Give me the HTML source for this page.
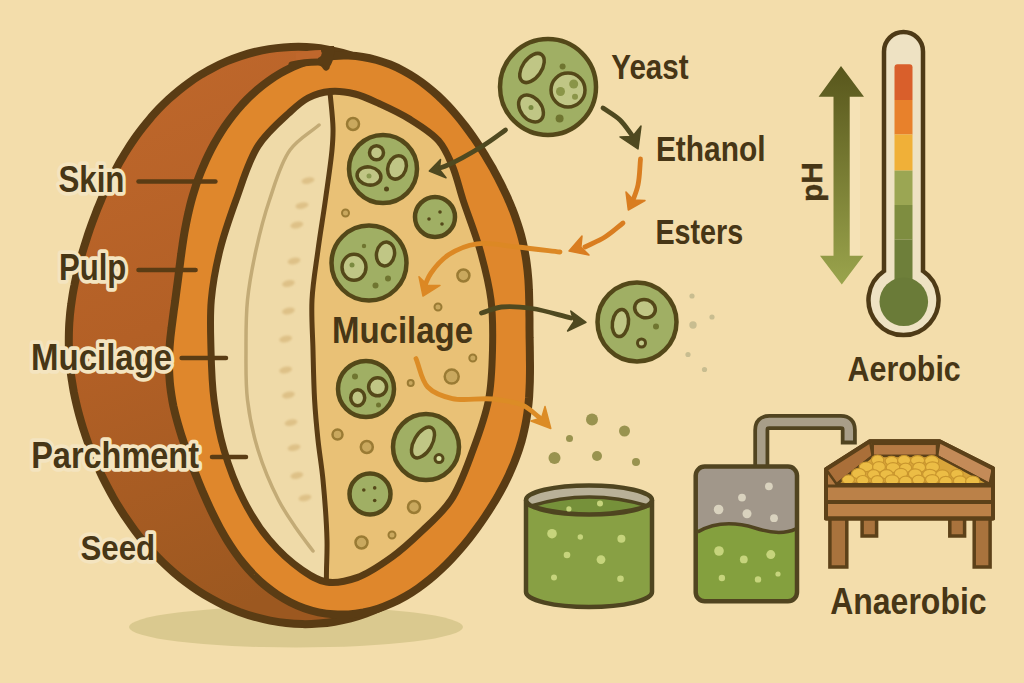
<!DOCTYPE html>
<html><head><meta charset="utf-8"><style>
html,body{margin:0;padding:0;width:1024px;height:683px;overflow:hidden;background:#f3ddab;}
svg{display:block;}
</style></head><body>
<svg width="1024" height="683" viewBox="0 0 1024 683">
<rect width="1024" height="683" fill="#f3ddab"/>
<ellipse cx="296" cy="627" rx="167" ry="20.5" fill="#dac98f"/>
<defs><linearGradient id="skg" x1="0" y1="0" x2="0.3" y2="1"><stop offset="0" stop-color="#c0682c"/><stop offset="0.5" stop-color="#b36026"/><stop offset="1" stop-color="#9c5820"/></linearGradient></defs>
<path d="M499.7,323.1 C499.9,327.4 500.1,331.7 500.3,336.0 C500.4,340.3 500.6,344.7 500.7,349.0 C500.8,353.4 500.8,357.8 500.9,362.1 C500.9,366.6 500.9,371.0 500.8,375.5 C500.7,380.0 500.6,384.5 500.4,389.0 C500.3,393.6 500.0,398.2 499.7,402.8 C499.4,407.4 499.0,412.1 498.5,416.8 C498.0,421.5 497.5,426.2 496.8,431.0 C496.1,435.7 495.4,440.6 494.5,445.3 C493.6,450.2 492.6,455.0 491.5,459.9 C490.3,464.7 489.1,469.6 487.6,474.5 C486.2,479.3 484.7,484.2 483.0,489.0 C481.2,493.9 479.4,498.7 477.3,503.5 C475.3,508.3 473.1,513.0 470.7,517.7 C468.3,522.4 465.8,527.0 463.1,531.6 C460.3,536.1 457.4,540.6 454.4,544.9 C451.3,549.3 448.0,553.6 444.6,557.7 C441.1,561.8 437.5,565.8 433.8,569.7 C430.0,573.5 426.0,577.2 421.9,580.7 C417.8,584.3 413.6,587.6 409.2,590.8 C404.8,593.9 400.2,596.9 395.5,599.6 C390.9,602.4 386.0,604.9 381.1,607.2 C376.2,609.6 371.2,611.7 366.1,613.5 C361.0,615.4 355.8,617.0 350.6,618.3 C345.3,619.7 340.0,620.8 334.7,621.7 C329.3,622.6 323.9,623.2 318.5,623.6 C313.1,624.0 307.7,624.2 302.3,624.1 C296.9,624.0 291.5,623.6 286.2,623.0 C280.8,622.5 275.5,621.6 270.2,620.6 C265.0,619.6 259.8,618.3 254.7,616.9 C249.5,615.4 244.5,613.7 239.5,611.9 C234.6,610.0 229.7,608.0 224.9,605.8 C220.2,603.6 215.6,601.2 211.0,598.6 C206.5,596.1 202.1,593.4 197.8,590.6 C193.5,587.8 189.4,584.9 185.3,581.8 C181.3,578.8 177.4,575.6 173.7,572.4 C169.9,569.1 166.3,565.8 162.8,562.4 C159.3,559.0 156.0,555.6 152.7,552.1 C149.5,548.6 146.4,545.0 143.4,541.4 C140.5,537.9 137.6,534.2 134.9,530.6 C132.2,527.0 129.6,523.3 127.1,519.6 C124.6,516.0 122.2,512.3 119.9,508.6 C117.6,505.0 115.4,501.3 113.3,497.6 C111.3,494.0 109.3,490.4 107.4,486.7 C105.5,483.1 103.7,479.5 101.9,475.9 C100.2,472.3 98.6,468.7 97.0,465.1 C95.4,461.6 93.9,458.0 92.5,454.5 C91.1,450.9 89.7,447.4 88.4,443.9 C87.2,440.4 85.9,437.0 84.8,433.5 C83.6,430.0 82.5,426.6 81.5,423.1 C80.5,419.7 79.5,416.3 78.6,412.8 C77.7,409.5 76.9,406.1 76.1,402.7 C75.3,399.3 74.6,395.9 73.9,392.5 C73.3,389.2 72.7,385.8 72.2,382.4 C71.6,379.1 71.2,375.8 70.7,372.4 C70.3,369.1 70.0,365.8 69.7,362.5 C69.4,359.1 69.2,355.8 69.1,352.5 C68.9,349.3 68.8,346.0 68.8,342.7 C68.8,339.4 68.8,336.1 68.9,332.9 C69.0,329.6 69.1,326.4 69.3,323.1 C69.6,319.9 69.8,316.7 70.1,313.5 C70.5,310.3 70.8,307.1 71.3,303.9 C71.7,300.7 72.2,297.5 72.7,294.3 C73.2,291.2 73.8,288.0 74.5,284.8 C75.1,281.7 75.8,278.5 76.5,275.4 C77.2,272.3 77.9,269.1 78.7,266.0 C79.5,262.8 80.4,259.7 81.3,256.6 C82.1,253.4 83.0,250.3 84.0,247.2 C85.0,244.0 86.0,240.9 87.0,237.7 C88.0,234.5 89.1,231.4 90.2,228.2 C91.3,225.0 92.5,221.8 93.7,218.6 C94.9,215.4 96.2,212.2 97.4,208.9 C98.8,205.7 100.1,202.4 101.5,199.1 C102.9,195.8 104.4,192.5 105.9,189.2 C107.4,185.9 109.0,182.5 110.7,179.2 C112.4,175.8 114.1,172.4 115.9,169.1 C117.7,165.7 119.6,162.2 121.6,158.9 C123.6,155.4 125.7,152.0 127.9,148.6 C130.1,145.2 132.3,141.8 134.7,138.4 C137.1,135.0 139.6,131.6 142.2,128.3 C144.8,124.9 147.5,121.6 150.3,118.3 C153.1,115.0 156.1,111.8 159.1,108.6 C162.2,105.4 165.4,102.3 168.7,99.2 C172.0,96.2 175.5,93.2 179.0,90.3 C182.6,87.4 186.2,84.6 190.0,81.9 C193.8,79.2 197.7,76.7 201.7,74.2 C205.8,71.8 209.9,69.4 214.1,67.3 C218.4,65.1 222.7,63.1 227.1,61.2 C231.6,59.3 236.1,57.6 240.7,56.1 C245.3,54.6 249.9,53.2 254.7,52.0 C259.4,50.9 264.2,49.9 269.0,49.1 C273.9,48.3 278.7,47.7 283.6,47.4 C288.5,47.0 293.5,46.8 298.4,46.8 C303.4,46.9 308.3,47.1 313.2,47.6 C318.2,48.0 323.1,48.7 328.0,49.6 C332.8,50.5 337.7,51.6 342.5,52.8 C347.3,54.1 352.0,55.6 356.7,57.3 C361.4,59.0 366.0,60.9 370.5,63.0 C375.0,65.1 379.4,67.4 383.7,69.8 C388.0,72.3 392.3,74.9 396.4,77.7 C400.5,80.5 404.5,83.4 408.3,86.5 C412.2,89.6 415.9,92.9 419.5,96.3 C423.1,99.6 426.6,103.1 429.9,106.8 C433.2,110.4 436.4,114.1 439.4,117.9 C442.5,121.8 445.3,125.7 448.1,129.7 C450.8,133.7 453.5,137.8 455.9,141.9 C458.4,146.0 460.7,150.3 462.9,154.5 C465.1,158.7 467.2,163.0 469.1,167.4 C471.0,171.7 472.8,176.0 474.5,180.4 C476.1,184.7 477.7,189.1 479.1,193.5 C480.6,197.9 481.9,202.3 483.1,206.7 C484.4,211.1 485.5,215.5 486.5,219.9 C487.6,224.3 488.5,228.7 489.4,233.0 C490.3,237.4 491.1,241.7 491.8,246.1 C492.5,250.4 493.2,254.7 493.8,259.1 C494.4,263.4 495.0,267.7 495.5,272.0 C496.0,276.2 496.4,280.5 496.9,284.8 C497.3,289.1 497.7,293.3 498.0,297.6 C498.3,301.8 498.7,306.1 498.9,310.3 C499.2,314.6 499.5,318.9 499.7,323.1 Z" fill="url(#skg)" stroke="#5a3c14" stroke-width="8" stroke-linejoin="round"/>
<path d="M529.5,328.2 C529.6,331.3 529.6,334.5 529.6,337.7 C529.7,340.8 529.7,344.0 529.8,347.2 C529.8,350.4 529.9,353.7 529.9,356.9 C529.9,360.2 530.0,363.5 530.0,366.7 C530.0,370.1 530.0,373.4 529.9,376.8 C529.9,380.2 529.8,383.6 529.6,387.0 C529.5,390.5 529.3,394.0 529.1,397.5 C528.8,401.0 528.5,404.6 528.0,408.1 C527.6,411.7 527.1,415.3 526.5,418.9 C525.9,422.5 525.2,426.1 524.4,429.7 C523.6,433.4 522.7,437.0 521.7,440.7 C520.6,444.3 519.5,447.9 518.3,451.6 C517.1,455.2 515.7,458.8 514.3,462.4 C512.8,466.1 511.3,469.7 509.6,473.3 C508.0,476.9 506.2,480.5 504.4,484.1 C502.5,487.7 500.6,491.3 498.5,494.9 C496.5,498.5 494.4,502.0 492.1,505.6 C489.9,509.2 487.6,512.8 485.2,516.4 C482.8,520.0 480.3,523.6 477.7,527.2 C475.1,530.8 472.4,534.4 469.6,537.9 C466.7,541.5 463.8,545.1 460.8,548.6 C457.7,552.2 454.6,555.7 451.3,559.2 C448.0,562.7 444.6,566.1 441.1,569.4 C437.5,572.8 433.8,576.1 430.0,579.2 C426.2,582.3 422.2,585.4 418.1,588.2 C414.0,591.1 409.8,593.8 405.5,596.3 C401.1,598.8 396.6,601.2 392.0,603.2 C387.4,605.3 382.7,607.2 377.9,608.7 C373.2,610.2 368.3,611.5 363.4,612.5 C358.4,613.4 353.4,614.1 348.5,614.4 C343.5,614.7 338.4,614.7 333.5,614.3 C328.5,614.0 323.5,613.3 318.6,612.3 C313.7,611.2 308.8,609.9 304.1,608.2 C299.4,606.5 294.7,604.5 290.2,602.2 C285.7,599.9 281.3,597.3 277.1,594.5 C272.9,591.7 268.8,588.6 264.9,585.4 C261.0,582.1 257.3,578.6 253.7,575.0 C250.2,571.3 246.8,567.5 243.6,563.6 C240.4,559.7 237.4,555.7 234.6,551.7 C231.8,547.6 229.1,543.5 226.5,539.3 C224.0,535.2 221.7,531.0 219.4,526.9 C217.2,522.8 215.1,518.6 213.1,514.5 C211.1,510.5 209.2,506.4 207.4,502.4 C205.6,498.4 203.9,494.5 202.2,490.6 C200.6,486.7 199.0,482.9 197.5,479.1 C196.0,475.4 194.5,471.7 193.1,468.0 C191.7,464.4 190.4,460.8 189.0,457.3 C187.7,453.7 186.5,450.2 185.2,446.7 C184.0,443.3 182.9,439.9 181.7,436.4 C180.6,433.0 179.6,429.6 178.6,426.2 C177.6,422.9 176.7,419.5 175.8,416.1 C174.9,412.8 174.2,409.4 173.4,406.1 C172.7,402.8 172.1,399.4 171.6,396.1 C171.0,392.7 170.6,389.4 170.2,386.1 C169.8,382.8 169.6,379.5 169.4,376.2 C169.2,372.9 169.1,369.6 169.0,366.3 C169.0,363.1 169.0,359.8 169.1,356.6 C169.2,353.4 169.4,350.2 169.6,347.0 C169.8,343.8 170.1,340.6 170.4,337.5 C170.8,334.4 171.1,331.3 171.5,328.2 C171.9,325.1 172.3,322.0 172.7,319.0 C173.1,315.9 173.5,312.9 173.9,309.8 C174.4,306.8 174.8,303.8 175.2,300.7 C175.6,297.7 176.0,294.7 176.4,291.6 C176.8,288.5 177.2,285.5 177.6,282.4 C178.0,279.3 178.4,276.2 178.8,273.1 C179.2,269.9 179.6,266.7 180.0,263.5 C180.4,260.3 180.8,257.0 181.3,253.7 C181.7,250.4 182.2,247.1 182.7,243.7 C183.2,240.3 183.7,236.9 184.3,233.4 C184.9,229.9 185.6,226.4 186.3,222.8 C187.0,219.2 187.7,215.6 188.6,212.0 C189.4,208.3 190.3,204.6 191.3,200.9 C192.3,197.2 193.4,193.4 194.6,189.7 C195.8,185.8 197.1,182.0 198.5,178.2 C199.9,174.4 201.4,170.5 203.1,166.7 C204.7,162.8 206.4,158.9 208.3,155.1 C210.2,151.2 212.2,147.3 214.3,143.5 C216.5,139.7 218.7,135.9 221.1,132.1 C223.5,128.3 226.1,124.5 228.8,120.9 C231.5,117.2 234.3,113.6 237.3,110.0 C240.3,106.5 243.4,103.0 246.7,99.7 C250.0,96.3 253.5,93.1 257.0,90.0 C260.6,86.9 264.3,83.9 268.2,81.2 C272.1,78.4 276.1,75.8 280.2,73.4 C284.3,71.0 288.6,68.8 292.9,66.8 C297.2,64.9 301.7,63.1 306.2,61.6 C310.8,60.1 315.4,58.9 320.1,58.0 C324.7,57.0 329.5,56.3 334.2,55.9 C338.9,55.5 343.7,55.4 348.5,55.6 C353.2,55.8 358.0,56.2 362.7,57.0 C367.4,57.7 372.0,58.7 376.6,60.0 C381.2,61.3 385.8,62.9 390.2,64.6 C394.6,66.4 399.0,68.5 403.2,70.7 C407.4,72.9 411.5,75.4 415.5,78.0 C419.5,80.6 423.3,83.4 427.0,86.3 C430.7,89.2 434.3,92.3 437.8,95.5 C441.2,98.7 444.5,102.0 447.7,105.3 C450.8,108.6 453.9,112.1 456.8,115.5 C459.7,119.0 462.5,122.5 465.2,126.0 C467.8,129.5 470.4,133.0 472.9,136.6 C475.3,140.1 477.7,143.6 480.0,147.2 C482.2,150.7 484.4,154.2 486.5,157.7 C488.6,161.2 490.6,164.6 492.6,168.1 C494.5,171.6 496.4,175.0 498.2,178.5 C499.9,181.9 501.7,185.3 503.3,188.7 C505.0,192.1 506.6,195.5 508.1,198.9 C509.5,202.3 511.0,205.7 512.3,209.1 C513.7,212.5 514.9,215.9 516.1,219.3 C517.3,222.7 518.4,226.1 519.4,229.5 C520.4,232.8 521.4,236.2 522.2,239.6 C523.0,243.0 523.8,246.4 524.4,249.8 C525.1,253.2 525.7,256.6 526.2,259.9 C526.7,263.3 527.1,266.7 527.5,270.0 C527.8,273.3 528.1,276.6 528.4,280.0 C528.6,283.3 528.8,286.5 528.9,289.8 C529.1,293.1 529.1,296.3 529.2,299.5 C529.3,302.7 529.3,306.0 529.4,309.1 C529.4,312.3 529.4,315.5 529.5,318.7 C529.5,321.8 529.5,325.0 529.5,328.2 Z" fill="#df872c" stroke="#5a3c14" stroke-width="8" stroke-linejoin="round"/>
<path d="M296,53 C305,51 313,50 321,50 L322,59 C313,59 304,60 296,61 Z" fill="#bf672c"/>
<path d="M292,65 C300,63 310,62 318,62 C323,62 325,65 326,67" fill="none" stroke="#5a3c14" stroke-width="7" stroke-linecap="round"/>
<path d="M318,58 C324,56 322,50 321,46 L334,46 C335,55 333,63 328,69 C325,66 322,64 318,64 Z" fill="#5a3c14"/>
<defs><clipPath id="inner"><path d="M330.0,91.5 C338.0,90.7 346.8,92.0 355.0,94.0 C363.5,96.1 371.4,100.1 380.0,104.0 C389.4,108.3 399.5,112.9 409.0,118.8 C419.1,125.1 431.3,132.4 438.6,140.8 C445.0,148.1 448.1,156.0 452.0,165.0 C456.5,175.4 458.9,187.3 463.0,200.0 C468.0,215.2 475.3,233.2 480.0,250.0 C484.6,266.5 488.9,283.2 491.0,300.0 C493.1,316.6 492.9,333.3 492.5,350.0 C492.1,366.7 491.7,383.5 488.5,400.0 C485.3,416.8 479.2,433.5 473.0,450.0 C466.7,466.8 460.3,486.0 451.0,500.0 C442.8,512.4 432.0,521.4 422.0,531.0 C412.3,540.3 402.8,549.3 392.0,557.0 C381.1,564.8 368.7,573.5 357.0,577.6 C346.8,581.2 335.8,583.5 326.4,582.0 C317.6,580.6 310.3,575.7 302.0,570.0 C291.3,562.7 278.7,551.1 269.0,539.6 C259.1,527.8 250.8,514.4 243.5,500.0 C235.7,484.7 228.9,466.9 224.0,450.0 C219.2,433.5 216.2,416.7 214.0,400.0 C211.9,383.4 211.4,366.7 211.0,350.0 C210.6,333.3 209.8,316.6 211.3,300.0 C212.8,283.3 215.9,266.5 220.0,250.0 C224.1,233.2 229.9,216.9 236.0,200.0 C242.5,182.2 248.3,161.1 258.0,146.0 C266.5,132.7 279.6,121.6 289.0,113.0 C295.8,106.7 301.1,101.6 308.0,98.0 C314.8,94.5 322.4,92.2 330.0,91.5 Z"/></clipPath></defs>
<path d="M330.0,91.5 C338.0,90.7 346.8,92.0 355.0,94.0 C363.5,96.1 371.4,100.1 380.0,104.0 C389.4,108.3 399.5,112.9 409.0,118.8 C419.1,125.1 431.3,132.4 438.6,140.8 C445.0,148.1 448.1,156.0 452.0,165.0 C456.5,175.4 458.9,187.3 463.0,200.0 C468.0,215.2 475.3,233.2 480.0,250.0 C484.6,266.5 488.9,283.2 491.0,300.0 C493.1,316.6 492.9,333.3 492.5,350.0 C492.1,366.7 491.7,383.5 488.5,400.0 C485.3,416.8 479.2,433.5 473.0,450.0 C466.7,466.8 460.3,486.0 451.0,500.0 C442.8,512.4 432.0,521.4 422.0,531.0 C412.3,540.3 402.8,549.3 392.0,557.0 C381.1,564.8 368.7,573.5 357.0,577.6 C346.8,581.2 335.8,583.5 326.4,582.0 C317.6,580.6 310.3,575.7 302.0,570.0 C291.3,562.7 278.7,551.1 269.0,539.6 C259.1,527.8 250.8,514.4 243.5,500.0 C235.7,484.7 228.9,466.9 224.0,450.0 C219.2,433.5 216.2,416.7 214.0,400.0 C211.9,383.4 211.4,366.7 211.0,350.0 C210.6,333.3 209.8,316.6 211.3,300.0 C212.8,283.3 215.9,266.5 220.0,250.0 C224.1,233.2 229.9,216.9 236.0,200.0 C242.5,182.2 248.3,161.1 258.0,146.0 C266.5,132.7 279.6,121.6 289.0,113.0 C295.8,106.7 301.1,101.6 308.0,98.0 C314.8,94.5 322.4,92.2 330.0,91.5 Z" fill="#e9c176"/>
<path d="M330.0,92.0 C331.0,104.0 332.8,117.5 333.0,128.0 C333.2,136.2 332.8,141.2 332.0,150.0 C330.8,163.3 327.7,183.3 325.4,200.0 C323.1,216.7 320.2,233.3 318.0,250.0 C315.8,266.7 312.8,283.3 312.0,300.0 C311.2,316.6 312.6,333.3 313.0,350.0 C313.4,366.7 313.7,384.3 314.6,400.0 C315.4,414.1 316.6,426.7 318.0,440.0 C319.4,453.3 321.6,465.3 323.0,480.0 C324.7,498.0 326.6,523.4 327.0,540.0 C327.3,551.7 326.6,562.3 326.5,570.0 C326.4,574.9 326.4,578.0 326.4,582.0 L150,600 L150,60 Z" fill="#efdaa8" clip-path="url(#inner)"/>
<path d="M319.0,125.0 C309.3,133.3 297.9,139.1 290.0,150.0 C280.6,163.0 275.2,183.2 269.5,200.0 C263.9,216.5 259.7,233.2 256.0,250.0 C252.4,266.6 249.2,283.3 247.5,300.0 C245.8,316.6 246.0,333.3 246.0,350.0 C246.0,366.7 245.5,383.4 247.5,400.0 C249.5,416.8 252.9,433.6 258.0,450.0 C263.2,466.9 271.3,486.0 278.5,500.0 C284.1,511.0 290.0,519.2 296.0,528.0 C301.6,536.2 307.3,543.3 313.0,551.0" fill="none" stroke="#c3ab76" stroke-width="3.5" stroke-linecap="round"/>
<defs><filter id="soft" x="-50%" y="-50%" width="200%" height="200%"><feGaussianBlur stdDeviation="0.8"/></filter></defs>
<g filter="url(#soft)"><ellipse cx="308" cy="180.6" rx="6.5" ry="3.2" transform="rotate(-12 308 180.6)" fill="#dec187"/><ellipse cx="302" cy="205.6" rx="6.5" ry="3.2" transform="rotate(-12 302 205.6)" fill="#dec187"/><ellipse cx="296.8" cy="225" rx="6.5" ry="3.2" transform="rotate(-12 296.8 225)" fill="#dec187"/><ellipse cx="294" cy="261" rx="6.5" ry="3.2" transform="rotate(-12 294 261)" fill="#dec187"/><ellipse cx="288.4" cy="283.5" rx="6.5" ry="3.2" transform="rotate(-12 288.4 283.5)" fill="#dec187"/><ellipse cx="288.4" cy="311" rx="6.5" ry="3.2" transform="rotate(-12 288.4 311)" fill="#dec187"/><ellipse cx="285.6" cy="339" rx="6.5" ry="3.2" transform="rotate(-12 285.6 339)" fill="#dec187"/><ellipse cx="285.6" cy="370" rx="6.5" ry="3.2" transform="rotate(-12 285.6 370)" fill="#dec187"/><ellipse cx="288.4" cy="395" rx="6.5" ry="3.2" transform="rotate(-12 288.4 395)" fill="#dec187"/><ellipse cx="291" cy="422.7" rx="6.5" ry="3.2" transform="rotate(-12 291 422.7)" fill="#dec187"/><ellipse cx="294" cy="447.7" rx="6.5" ry="3.2" transform="rotate(-12 294 447.7)" fill="#dec187"/><ellipse cx="296.8" cy="475.5" rx="6.5" ry="3.2" transform="rotate(-12 296.8 475.5)" fill="#dec187"/><ellipse cx="305" cy="497.8" rx="6.5" ry="3.2" transform="rotate(-12 305 497.8)" fill="#dec187"/></g>
<path d="M330.0,92.0 C331.0,104.0 332.8,117.5 333.0,128.0 C333.2,136.2 332.8,141.2 332.0,150.0 C330.8,163.3 327.7,183.3 325.4,200.0 C323.1,216.7 320.2,233.3 318.0,250.0 C315.8,266.7 312.8,283.3 312.0,300.0 C311.2,316.6 312.6,333.3 313.0,350.0 C313.4,366.7 313.7,384.3 314.6,400.0 C315.4,414.1 316.6,426.7 318.0,440.0 C319.4,453.3 321.6,465.3 323.0,480.0 C324.7,498.0 326.6,523.4 327.0,540.0 C327.3,551.7 326.6,562.3 326.5,570.0 C326.4,574.9 326.4,578.0 326.4,582.0" fill="none" stroke="#5a3c14" stroke-width="5" stroke-linecap="round"/>
<path d="M330.0,91.5 C338.0,90.7 346.8,92.0 355.0,94.0 C363.5,96.1 371.4,100.1 380.0,104.0 C389.4,108.3 399.5,112.9 409.0,118.8 C419.1,125.1 431.3,132.4 438.6,140.8 C445.0,148.1 448.1,156.0 452.0,165.0 C456.5,175.4 458.9,187.3 463.0,200.0 C468.0,215.2 475.3,233.2 480.0,250.0 C484.6,266.5 488.9,283.2 491.0,300.0 C493.1,316.6 492.9,333.3 492.5,350.0 C492.1,366.7 491.7,383.5 488.5,400.0 C485.3,416.8 479.2,433.5 473.0,450.0 C466.7,466.8 460.3,486.0 451.0,500.0 C442.8,512.4 432.0,521.4 422.0,531.0 C412.3,540.3 402.8,549.3 392.0,557.0 C381.1,564.8 368.7,573.5 357.0,577.6 C346.8,581.2 335.8,583.5 326.4,582.0 C317.6,580.6 310.3,575.7 302.0,570.0 C291.3,562.7 278.7,551.1 269.0,539.6 C259.1,527.8 250.8,514.4 243.5,500.0 C235.7,484.7 228.9,466.9 224.0,450.0 C219.2,433.5 216.2,416.7 214.0,400.0 C211.9,383.4 211.4,366.7 211.0,350.0 C210.6,333.3 209.8,316.6 211.3,300.0 C212.8,283.3 215.9,266.5 220.0,250.0 C224.1,233.2 229.9,216.9 236.0,200.0 C242.5,182.2 248.3,161.1 258.0,146.0 C266.5,132.7 279.6,121.6 289.0,113.0 C295.8,106.7 301.1,101.6 308.0,98.0 C314.8,94.5 322.4,92.2 330.0,91.5 Z" fill="none" stroke="#5a3c14" stroke-width="7"/>
<circle cx="353" cy="124" r="6" fill="#c9a85e" stroke="#9a7b34" stroke-width="2.5"/>
<circle cx="345.5" cy="213" r="3.5" fill="#c9a85e" stroke="#9a7b34" stroke-width="2"/>
<circle cx="463.4" cy="275.5" r="6" fill="#c9a85e" stroke="#9a7b34" stroke-width="2.5"/>
<circle cx="438" cy="307" r="3.5" fill="#c9a85e" stroke="#9a7b34" stroke-width="2"/>
<circle cx="472.8" cy="358" r="3.5" fill="#c9a85e" stroke="#9a7b34" stroke-width="2"/>
<circle cx="451.7" cy="376.6" r="7" fill="#c9a85e" stroke="#9a7b34" stroke-width="2.5"/>
<circle cx="410.7" cy="383" r="3" fill="#c9a85e" stroke="#9a7b34" stroke-width="2"/>
<circle cx="337.5" cy="434.6" r="5" fill="#c9a85e" stroke="#9a7b34" stroke-width="2.5"/>
<circle cx="366.8" cy="447" r="6" fill="#c9a85e" stroke="#9a7b34" stroke-width="2.5"/>
<circle cx="414" cy="507" r="6" fill="#c9a85e" stroke="#9a7b34" stroke-width="2.5"/>
<circle cx="392" cy="535" r="3.5" fill="#c9a85e" stroke="#9a7b34" stroke-width="2"/>
<circle cx="361.5" cy="542.5" r="6" fill="#c9a85e" stroke="#9a7b34" stroke-width="2.5"/>
<circle cx="383" cy="169" r="34" fill="#a0af64" stroke="#544819" stroke-width="4.5"/><ellipse cx="376.5" cy="152.7" rx="7" ry="7" transform="rotate(0 376.5 152.7)" fill="#c0c685" stroke="#544819" stroke-width="3.5"/><ellipse cx="397" cy="167.4" rx="9" ry="12" transform="rotate(20 397 167.4)" fill="#c0c685" stroke="#544819" stroke-width="3.5"/><ellipse cx="369" cy="176" rx="12" ry="9" transform="rotate(10 369 176)" fill="#c0c685" stroke="#544819" stroke-width="3.5"/><circle cx="369" cy="176" r="2.5" fill="#8a9a50"/><circle cx="386.5" cy="189" r="2.5" fill="#544819"/>
<circle cx="435" cy="217" r="20" fill="#a0af64" stroke="#544819" stroke-width="4.5"/><circle cx="440" cy="212" r="1.8" fill="#544819"/><circle cx="429" cy="219" r="1.8" fill="#544819"/><circle cx="442" cy="224" r="1.8" fill="#544819"/>
<circle cx="369" cy="263" r="37.5" fill="#a0af64" stroke="#544819" stroke-width="4.5"/><ellipse cx="354" cy="267.3" rx="12" ry="13" transform="rotate(0 354 267.3)" fill="#c0c685" stroke="#544819" stroke-width="3.5"/><circle cx="352" cy="265" r="2.5" fill="#7a8a40"/><ellipse cx="385.5" cy="254" rx="9" ry="12" transform="rotate(10 385.5 254)" fill="#c0c685" stroke="#544819" stroke-width="3.5"/><circle cx="364" cy="246" r="2.2" fill="#6f7530"/><circle cx="388" cy="278.5" r="3" fill="#6f7530"/><circle cx="375.5" cy="285.5" r="3" fill="#6f7530"/>
<circle cx="366" cy="389" r="28" fill="#a0af64" stroke="#544819" stroke-width="4.5"/><ellipse cx="377.6" cy="386.8" rx="9" ry="9" transform="rotate(0 377.6 386.8)" fill="#c0c685" stroke="#544819" stroke-width="3.5"/><ellipse cx="357.7" cy="397.7" rx="7" ry="8" transform="rotate(0 357.7 397.7)" fill="#c0c685" stroke="#544819" stroke-width="3.5"/><circle cx="355" cy="376.6" r="3" fill="#6f7530"/><circle cx="378.5" cy="405" r="2.5" fill="#6f7530"/>
<circle cx="426" cy="447" r="33" fill="#a0af64" stroke="#544819" stroke-width="4.5"/><ellipse cx="423" cy="442.5" rx="9" ry="17" transform="rotate(30 423 442.5)" fill="#c0c685" stroke="#544819" stroke-width="3.5"/><ellipse cx="439" cy="458.6" rx="4" ry="4" transform="rotate(0 439 458.6)" fill="#d8e0a0" stroke="#544819" stroke-width="3"/>
<circle cx="370" cy="494" r="20.5" fill="#a0af64" stroke="#544819" stroke-width="4.5"/><circle cx="363.8" cy="490" r="1.8" fill="#544819"/><circle cx="374.7" cy="487.9" r="1.8" fill="#544819"/><circle cx="374.7" cy="500.5" r="1.8" fill="#544819"/>
<circle cx="548" cy="87" r="48" fill="#a0af64" stroke="#544819" stroke-width="4.5"/><ellipse cx="532" cy="68" rx="9.5" ry="16.5" transform="rotate(35 532 68)" fill="#c0c685" stroke="#544819" stroke-width="3.5"/><ellipse cx="531" cy="108.5" rx="10.5" ry="15" transform="rotate(-38 531 108.5)" fill="#c0c685" stroke="#544819" stroke-width="3.5"/><circle cx="531" cy="107.6" r="2.5" fill="#7a8a40"/><ellipse cx="568" cy="90" rx="17" ry="17" transform="rotate(0 568 90)" fill="#c0c685" stroke="#544819" stroke-width="3.5"/><circle cx="560.5" cy="91.5" r="4.5" fill="#8a9548"/><circle cx="573.7" cy="84" r="4.5" fill="#8a9548"/><circle cx="575" cy="96.8" r="3" fill="#8a9548"/><circle cx="562.6" cy="66.6" r="3" fill="#6f7530"/><circle cx="559.6" cy="118.4" r="4" fill="#6f7530"/>
<circle cx="637" cy="322" r="39.5" fill="#a0af64" stroke="#544819" stroke-width="4.5"/><ellipse cx="620.4" cy="323" rx="8" ry="13.7" transform="rotate(8 620.4 323)" fill="#c0c685" stroke="#544819" stroke-width="3.5"/><ellipse cx="645" cy="308.6" rx="10.5" ry="9" transform="rotate(20 645 308.6)" fill="#c0c685" stroke="#544819" stroke-width="3.5"/><ellipse cx="641.5" cy="343" rx="4" ry="4" transform="rotate(0 641.5 343)" fill="#c0c888" stroke="#544819" stroke-width="3"/><circle cx="656" cy="326.5" r="3" fill="#6f7530"/>
<path d="M505.5,130.0 C498.3,135.1 492.2,140.0 483.8,145.2 C472.9,152.0 453.5,162.7 445.0,166.3 C441.1,167.9 439.0,168.1 436.0,169.0" fill="none" stroke="#4f4920" stroke-width="4.8" stroke-linecap="round"/><path d="M429.3,171 L440.5,159.6 L439.3,169.3 L446,177.8 Z" fill="#4f4920" stroke="#4f4920" stroke-width="1.5" stroke-linejoin="round"/>
<path d="M603.0,108.0 C608.7,112.0 614.9,115.2 620.0,120.0 C625.3,125.1 629.3,132.0 634.0,138.0" fill="none" stroke="#4f4920" stroke-width="4.8" stroke-linecap="round"/><path d="M638,149 L620,137 L632.6,136.4 L641,126 Z" fill="#4f4920" stroke="#4f4920" stroke-width="1.5" stroke-linejoin="round"/>
<path d="M640.5,159.0 C639.7,167.7 639.7,177.2 638.0,185.0 C636.6,191.6 634.0,197.0 632.0,203.0" fill="none" stroke="#d97d20" stroke-width="4.8" stroke-linecap="round"/><path d="M628.3,210 L626,192 L633.5,200.1 L645,200.5 Z" fill="#d97d20" stroke="#d97d20" stroke-width="1.5" stroke-linejoin="round"/>
<path d="M623.0,223.0 C617.0,227.7 611.4,233.0 605.0,237.0 C598.7,241.0 591.7,243.7 585.0,247.0" fill="none" stroke="#d97d20" stroke-width="4.8" stroke-linecap="round"/><path d="M569,251 L582,236 L580.9,247.0 L589,255 Z" fill="#d97d20" stroke="#d97d20" stroke-width="1.5" stroke-linejoin="round"/>
<path d="M560.0,252.0 C545.7,250.3 531.1,248.4 517.0,247.0 C503.4,245.7 489.0,242.1 477.0,243.8 C466.6,245.3 456.9,249.4 449.0,254.6 C441.7,259.4 435.1,267.2 431.0,273.0 C428.0,277.2 427.0,281.0 425.0,285.0" fill="none" stroke="#dc8824" stroke-width="4.8" stroke-linecap="round"/><path d="M423,296 L419,276.7 L427.7,285.2 L440,285.4 Z" fill="#dc8824" stroke="#dc8824" stroke-width="1.5" stroke-linejoin="round"/>
<path d="M481.5,313.0 C488.2,311.0 494.0,307.9 501.5,307.0 C510.5,305.9 521.3,306.9 532.0,308.5 C544.3,310.3 558.0,314.8 571.0,318.0" fill="none" stroke="#4f4920" stroke-width="4.8" stroke-linecap="round"/><path d="M586,322.3 L570.8,311 L573.9,321.4 L567.6,331 Z" fill="#4f4920" stroke="#4f4920" stroke-width="1.5" stroke-linejoin="round"/>
<path d="M416.0,358.6 C419.9,368.1 421.3,380.3 427.7,387.0 C433.7,393.3 442.8,396.4 452.3,398.6 C463.8,401.2 479.9,397.7 492.3,399.0 C503.3,400.2 514.6,401.6 523.0,405.4 C529.9,408.5 534.3,413.8 540.0,418.0" fill="none" stroke="#dc8c26" stroke-width="4.8" stroke-linecap="round"/><path d="M550.8,428.5 L531,421 L541.6,417.9 L545,406.5 Z" fill="#dc8c26" stroke="#dc8c26" stroke-width="1.5" stroke-linejoin="round"/>
<circle cx="592" cy="419.5" r="6" fill="#99934f"/>
<circle cx="569.5" cy="438.5" r="3.5" fill="#99934f"/>
<circle cx="624.5" cy="431" r="5.5" fill="#99934f"/>
<circle cx="554.5" cy="458" r="6" fill="#99934f"/>
<circle cx="597" cy="456" r="5" fill="#99934f"/>
<circle cx="636" cy="462" r="4" fill="#99934f"/>
<circle cx="692" cy="296" r="2.6" fill="#c8bd90"/>
<circle cx="693" cy="325" r="3.7" fill="#c8bd90"/>
<circle cx="712" cy="317" r="2.6" fill="#c8bd90"/>
<circle cx="688" cy="354.5" r="2.6" fill="#c8bd90"/>
<circle cx="704.5" cy="369.5" r="2.6" fill="#c8bd90"/>
<line x1="138.5" y1="181.4" x2="215.4" y2="181.4" stroke="#5a3c14" stroke-width="4.5" stroke-linecap="round"/>
<line x1="138.5" y1="270" x2="195.6" y2="270" stroke="#5a3c14" stroke-width="4.5" stroke-linecap="round"/>
<line x1="181.6" y1="358" x2="226" y2="358" stroke="#5a3c14" stroke-width="4.5" stroke-linecap="round"/>
<line x1="212" y1="457" x2="246" y2="457" stroke="#5a3c14" stroke-width="4.5" stroke-linecap="round"/>
<path d="M884,271 V51.5 A19.5,19.5 0 0 1 923,51.5 V271 A35,35 0 1 1 884,271 Z" fill="#eee2c3" stroke="#4e3a16" stroke-width="4.5"/>
<path d="M894.5,67.3 Q894.5,64.3 897.5,64.3 H909.5 Q912.5,64.3 912.5,67.3 V100 H894.5 Z" fill="#d95f2b"/>
<rect x="894.5" y="100" width="18" height="34.5" fill="#e8812b"/>
<rect x="894.5" y="134.5" width="18" height="36.099999999999994" fill="#f0b038"/>
<rect x="894.5" y="170.6" width="18" height="34.400000000000006" fill="#9ba653"/>
<rect x="894.5" y="205" width="18" height="34.5" fill="#7e8d40"/>
<rect x="894.5" y="239.5" width="18" height="50.5" fill="#6e7f3a"/>
<circle cx="903.8" cy="301.7" r="24.3" fill="#6a7b38"/>
<defs><linearGradient id="phg" x1="0" y1="0" x2="0" y2="1"><stop offset="0" stop-color="#58561c"/><stop offset="1" stop-color="#9aa44c"/></linearGradient></defs>
<rect x="850" y="97" width="10" height="159" fill="#f8ecca" opacity="0.35"/>
<path d="M841,66 L818.6,96.7 H833.5 V255.7 H820 L841.8,284.4 L863.4,255.7 H849.7 V96.7 H864 Z" fill="url(#phg)"/>
<path d="M526,500 V592 A63,15 0 0 0 652,592 V500" fill="#88a044" stroke="#4f4520" stroke-width="4.5"/>
<ellipse cx="589" cy="500" rx="63" ry="14.5" fill="#b9b198" stroke="#4f4520" stroke-width="4.5"/>
<path d="M531,506 Q589,488 648,506 Q589,522 531,506 Z" fill="#76913a" stroke="#4f4520" stroke-width="3.5"/>
<circle cx="568.9" cy="508.9" r="2.6" fill="#c6d47c"/>
<circle cx="600" cy="503.4" r="3" fill="#c6d47c"/>
<circle cx="552" cy="533.7" r="4.8" fill="#c6d47c"/>
<circle cx="580.3" cy="537" r="2.7" fill="#c6d47c"/>
<circle cx="621.4" cy="538.7" r="4" fill="#c6d47c"/>
<circle cx="567" cy="555" r="3.3" fill="#c6d47c"/>
<circle cx="601" cy="559.6" r="4.4" fill="#c6d47c"/>
<circle cx="554" cy="577.6" r="3" fill="#c6d47c"/>
<circle cx="620.5" cy="578.7" r="3.3" fill="#c6d47c"/>
<path d="M761.3,468 V430 Q761.3,422 769.3,422 H840.8 Q848.8,422 848.8,430 V444.4" fill="none" stroke="#514420" stroke-width="16"/>
<path d="M761.3,468 V430 Q761.3,422 769.3,422 H840.8 Q848.8,422 848.8,430 V440.4" fill="none" stroke="#a89e88" stroke-width="8.5"/>
<defs><clipPath id="tank"><rect x="695.7" y="466.6" width="101.3" height="134.7" rx="9"/></clipPath></defs>
<rect x="695.7" y="466.6" width="101.3" height="134.7" rx="9" fill="#a1978a"/>
<path d="M690,532 C715,522 735,522 755,528 C770,533 785,534 800,528 V610 H690 Z" fill="#84a03e" clip-path="url(#tank)"/>
<path d="M697.7,532 C715,522 735,522 755,528 C770,533 785,534 796,528.8" fill="none" stroke="#514420" stroke-width="3.5"/>
<rect x="695.7" y="466.6" width="101.3" height="134.7" rx="9" fill="none" stroke="#514420" stroke-width="4.5"/>
<circle cx="718.6" cy="509.5" r="4.8" fill="#d9d2be"/>
<circle cx="742" cy="497.6" r="3.9" fill="#d9d2be"/>
<circle cx="747" cy="513.7" r="4.5" fill="#d9d2be"/>
<circle cx="768.9" cy="486.3" r="3.9" fill="#d9d2be"/>
<circle cx="774" cy="518.2" r="3.9" fill="#d9d2be"/>
<circle cx="719" cy="551" r="4.8" fill="#c6d47c"/>
<circle cx="743.8" cy="559.4" r="3.9" fill="#c6d47c"/>
<circle cx="770.8" cy="554.6" r="4.5" fill="#c6d47c"/>
<circle cx="721.9" cy="578" r="3.2" fill="#c6d47c"/>
<circle cx="758" cy="579.4" r="3.2" fill="#c6d47c"/>
<circle cx="778" cy="574" r="2.6" fill="#c6d47c"/>
<rect x="862.1" y="515" width="14.5" height="21" fill="#a9733d" stroke="#5c4119" stroke-width="3.5"/>
<rect x="949.8" y="515" width="14.800000000000068" height="21" fill="#a9733d" stroke="#5c4119" stroke-width="3.5"/>
<rect x="829.9" y="515" width="16.899999999999977" height="52" fill="#a9733d" stroke="#5c4119" stroke-width="3.5"/>
<rect x="974.2" y="515" width="15.899999999999977" height="52" fill="#a9733d" stroke="#5c4119" stroke-width="3.5"/>
<polygon points="870,441.2 939.5,441.2 993,468.4 993,518.5 826,518.5 826,469.3" fill="#b37a42" stroke="#5c4119" stroke-width="4" stroke-linejoin="round"/>
<polygon points="826,469.3 870,441.2 872.7,456 836.7,484.2" fill="#aa6f39" stroke="#5c4119" stroke-width="2.5" stroke-linejoin="round"/>
<polygon points="939.5,441.2 993,468.4 989.6,484 937,456" fill="#c48b58" stroke="#5c4119" stroke-width="2.5" stroke-linejoin="round"/>
<rect x="872.7" y="443.8" width="64.3" height="12.2" fill="#b57a44" stroke="#5c4119" stroke-width="2.5"/>
<polygon points="872.7,456 937,456 989.6,484 836.7,484" fill="#d9a53a" stroke="#5c4119" stroke-width="2.5" stroke-linejoin="round"/>
<g clip-path="url(#beanclip)"><ellipse cx="877.6" cy="460.1" rx="6.2" ry="5.1" fill="#ecbd45" stroke="#c9962e" stroke-width="1.2"/><ellipse cx="891.5" cy="461.0" rx="6.4" ry="4.6" fill="#ecbd45" stroke="#c9962e" stroke-width="1.2"/><ellipse cx="904.1" cy="460.2" rx="6.5" ry="4.7" fill="#ecbd45" stroke="#c9962e" stroke-width="1.2"/><ellipse cx="917.6" cy="460.4" rx="7.0" ry="4.7" fill="#ecbd45" stroke="#c9962e" stroke-width="1.2"/><ellipse cx="931.7" cy="460.8" rx="7.1" ry="5.1" fill="#ecbd45" stroke="#c9962e" stroke-width="1.2"/><ellipse cx="866.2" cy="466.8" rx="7.0" ry="4.8" fill="#ecbd45" stroke="#c9962e" stroke-width="1.2"/><ellipse cx="879.0" cy="466.9" rx="6.4" ry="5.3" fill="#ecbd45" stroke="#c9962e" stroke-width="1.2"/><ellipse cx="893.0" cy="467.6" rx="6.8" ry="4.9" fill="#ecbd45" stroke="#c9962e" stroke-width="1.2"/><ellipse cx="905.6" cy="467.9" rx="6.1" ry="4.8" fill="#ecbd45" stroke="#c9962e" stroke-width="1.2"/><ellipse cx="919.2" cy="467.4" rx="6.4" ry="5.1" fill="#ecbd45" stroke="#c9962e" stroke-width="1.2"/><ellipse cx="932.5" cy="467.0" rx="7.0" ry="5.2" fill="#ecbd45" stroke="#c9962e" stroke-width="1.2"/><ellipse cx="858.6" cy="473.6" rx="7.1" ry="5.2" fill="#ecbd45" stroke="#c9962e" stroke-width="1.2"/><ellipse cx="873.6" cy="474.5" rx="6.1" ry="4.9" fill="#ecbd45" stroke="#c9962e" stroke-width="1.2"/><ellipse cx="886.5" cy="474.3" rx="6.6" ry="4.6" fill="#ecbd45" stroke="#c9962e" stroke-width="1.2"/><ellipse cx="900.9" cy="473.6" rx="6.7" ry="5.3" fill="#ecbd45" stroke="#c9962e" stroke-width="1.2"/><ellipse cx="915.1" cy="473.9" rx="6.7" ry="5.1" fill="#ecbd45" stroke="#c9962e" stroke-width="1.2"/><ellipse cx="929.7" cy="474.3" rx="7.1" ry="5.0" fill="#ecbd45" stroke="#c9962e" stroke-width="1.2"/><ellipse cx="942.4" cy="475.0" rx="6.8" ry="5.1" fill="#ecbd45" stroke="#c9962e" stroke-width="1.2"/><ellipse cx="956.9" cy="474.3" rx="6.3" ry="4.9" fill="#ecbd45" stroke="#c9962e" stroke-width="1.2"/><ellipse cx="848.3" cy="479.6" rx="6.2" ry="4.7" fill="#ecbd45" stroke="#c9962e" stroke-width="1.2"/><ellipse cx="862.7" cy="480.3" rx="6.2" ry="4.8" fill="#ecbd45" stroke="#c9962e" stroke-width="1.2"/><ellipse cx="877.4" cy="480.6" rx="6.1" ry="5.0" fill="#ecbd45" stroke="#c9962e" stroke-width="1.2"/><ellipse cx="892.1" cy="480.1" rx="7.0" ry="5.3" fill="#ecbd45" stroke="#c9962e" stroke-width="1.2"/><ellipse cx="905.7" cy="481.4" rx="6.4" ry="5.3" fill="#ecbd45" stroke="#c9962e" stroke-width="1.2"/><ellipse cx="918.5" cy="480.0" rx="6.2" ry="4.8" fill="#ecbd45" stroke="#c9962e" stroke-width="1.2"/><ellipse cx="932.2" cy="479.5" rx="6.7" ry="4.8" fill="#ecbd45" stroke="#c9962e" stroke-width="1.2"/><ellipse cx="945.8" cy="481.4" rx="6.4" ry="5.1" fill="#ecbd45" stroke="#c9962e" stroke-width="1.2"/><ellipse cx="960.0" cy="480.9" rx="6.6" ry="5.1" fill="#ecbd45" stroke="#c9962e" stroke-width="1.2"/><ellipse cx="972.7" cy="481.2" rx="7.1" ry="5.2" fill="#ecbd45" stroke="#c9962e" stroke-width="1.2"/></g>
<defs><clipPath id="beanclip"><polygon points="872.7,452 937,452 989.6,483 836.7,483"/></clipPath></defs>
<rect x="826" y="486" width="167" height="15.5" fill="#bb8148" stroke="#5c4119" stroke-width="3"/>
<rect x="826" y="502.5" width="167" height="15.5" fill="#bb8148" stroke="#5c4119" stroke-width="3"/>
<polygon points="870,441.2 939.5,441.2 993,468.4 993,518.5 826,518.5 826,469.3" fill="none" stroke="#5c4119" stroke-width="4" stroke-linejoin="round"/>
<g font-family="Liberation Sans, sans-serif" font-weight="bold">
<text x="58.4" y="191.5" font-size="36" textLength="66.1" lengthAdjust="spacingAndGlyphs" fill="#f4e4bf" stroke="#f4e4bf" stroke-width="7.5" stroke-linejoin="round">Skin</text><text x="58.4" y="191.5" font-size="36" textLength="66.1" lengthAdjust="spacingAndGlyphs" fill="#473616">Skin</text>
<text x="59" y="280.3" font-size="36" textLength="67.3" lengthAdjust="spacingAndGlyphs" fill="#f4e4bf" stroke="#f4e4bf" stroke-width="7.5" stroke-linejoin="round">Pulp</text><text x="59" y="280.3" font-size="36" textLength="67.3" lengthAdjust="spacingAndGlyphs" fill="#473616">Pulp</text>
<text x="31" y="369.6" font-size="37" textLength="141.2" lengthAdjust="spacingAndGlyphs" fill="#f4e4bf" stroke="#f4e4bf" stroke-width="7.5" stroke-linejoin="round">Mucilage</text><text x="31" y="369.6" font-size="37" textLength="141.2" lengthAdjust="spacingAndGlyphs" fill="#473616">Mucilage</text>
<text x="31.2" y="468.4" font-size="36" textLength="167.8" lengthAdjust="spacingAndGlyphs" fill="#f4e4bf" stroke="#f4e4bf" stroke-width="7.5" stroke-linejoin="round">Parchment</text><text x="31.2" y="468.4" font-size="36" textLength="167.8" lengthAdjust="spacingAndGlyphs" fill="#473616">Parchment</text>
<text x="80.5" y="559.6" font-size="35" textLength="74.69999999999999" lengthAdjust="spacingAndGlyphs" fill="#f4e4bf" stroke="#f4e4bf" stroke-width="7.5" stroke-linejoin="round">Seed</text><text x="80.5" y="559.6" font-size="35" textLength="74.69999999999999" lengthAdjust="spacingAndGlyphs" fill="#473616">Seed</text>
<text x="332" y="343.3" font-size="37" textLength="141" lengthAdjust="spacingAndGlyphs" fill="#473616">Mucilage</text>
<text x="611.3" y="79.3" font-size="35" textLength="77.30000000000007" lengthAdjust="spacingAndGlyphs" fill="#473616">Yeast</text>
<text x="655.9" y="161.4" font-size="35" textLength="109.60000000000002" lengthAdjust="spacingAndGlyphs" fill="#473616">Ethanol</text>
<text x="655.4" y="243.5" font-size="35" textLength="87.89999999999998" lengthAdjust="spacingAndGlyphs" fill="#473616">Esters</text>
<text x="847.5" y="380.7" font-size="35" textLength="113.29999999999995" lengthAdjust="spacingAndGlyphs" fill="#473616">Aerobic</text>
<text x="830.2" y="614" font-size="37" textLength="156.39999999999998" lengthAdjust="spacingAndGlyphs" fill="#473616">Anaerobic</text>
<text x="0" y="0" font-size="30" textLength="40" lengthAdjust="spacingAndGlyphs" fill="#473616" stroke="#473616" stroke-width="0.4" transform="translate(822.3,202) rotate(-90)">pH</text>
</g>
</svg></body></html>
